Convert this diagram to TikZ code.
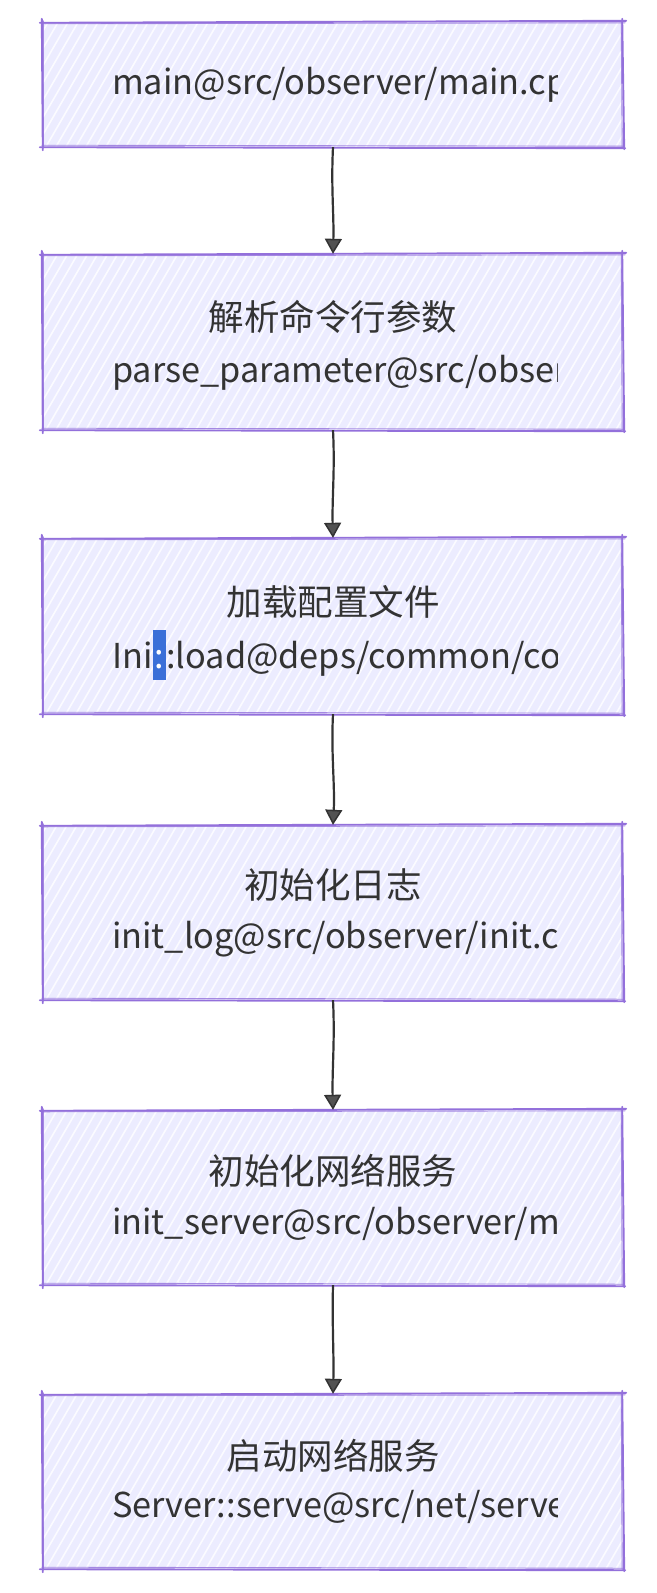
\documentclass[tikz,border=0pt]{standalone}
\usepackage{fontspec}
\setmainfont{Noto Sans CJK SC}
\usetikzlibrary{arrows.meta}
\definecolor{boxfill}{HTML}{ECECFF}
\definecolor{boxline}{HTML}{9370DB}
\definecolor{ink}{HTML}{333333}
\definecolor{selblue}{HTML}{3A6FD8}
\tikzset{
  box/.style={draw=none, inner sep=0pt, minimum width=580pt},
  title/.style={text=ink, font=\fontsize{35.5}{40}\selectfont, inner sep=0pt},
  code/.style={text=ink, font=\fontsize{34.3}{40}\selectfont, inner sep=0pt, anchor=west},
  hatch/.style={white, line width=1.6pt, opacity=0.8},
  border/.style={boxline, line width=1.9pt, line cap=round},
  border2/.style={boxline, line width=0.9pt, line cap=round, opacity=0.8},
  arr/.style={ink, line width=2.2pt, -{Triangle[length=15pt, width=17pt, line width=1.5pt, fill=ink!85]}},
}
\newcommand\sketchbox[1]{%
  \fill[boxfill] (#1.north west) rectangle (#1.south east);
  \begin{scope}
    \clip (#1.north west) rectangle (#1.south east);
    \foreach \k in {0,...,72} \draw[hatch] (#1.south west) ++(\k*10-120,5) -- ++(110,-190);
  \end{scope}
  \draw[border] ([xshift=-3pt,yshift=-1pt]#1.north west) -- ([xshift=3pt,yshift=1pt]#1.north east);
  \draw[border] ([xshift=-1pt,yshift=3pt]#1.north east) -- ([xshift=1pt,yshift=-2pt]#1.south east);
  \draw[border] ([xshift=2pt,yshift=-1pt]#1.south east) -- ([xshift=-3pt,yshift=0pt]#1.south west);
  \draw[border] ([xshift=0pt,yshift=-3pt]#1.south west) -- ([xshift=-1pt,yshift=3pt]#1.north west);
  \draw[border2] ([xshift=-1pt,yshift=-2pt]#1.north west) -- ([xshift=2pt,yshift=-1pt]#1.north east);
  \draw[border2] ([xshift=-2pt,yshift=1pt]#1.north east) -- ([xshift=-1pt,yshift=-1pt]#1.south east);
  \draw[border2] ([xshift=1pt,yshift=1pt]#1.south east) -- ([xshift=-1pt,yshift=2pt]#1.south west);
  \draw[border2] ([xshift=1pt,yshift=-1pt]#1.south west) -- ([xshift=1pt,yshift=1pt]#1.north west);
}
\newcommand\codeline[3]{% name, y, text
  \begin{scope}
    \clip (112,#2-32) rectangle (557,#2+32);
    \node[code] (#1) at (112,#2) {#3};
  \end{scope}
}
\begin{document}
\begin{tikzpicture}[x=1pt,y=-1pt]
\useasboundingbox (0,0) rectangle (656,1593);
\node[box, minimum height=125pt] (b1) at (333,84.5) {};
\node[box, minimum height=176pt] (b2) at (333,342) {};
\node[box, minimum height=176pt] (b3) at (333,626) {};
\node[box, minimum height=175pt] (b4) at (333,912.5) {};
\node[box, minimum height=175pt] (b5) at (333,1197.5) {};
\node[box, minimum height=175pt] (b6) at (333,1481.5) {};
\sketchbox{b1}
\sketchbox{b2}
\sketchbox{b3}
\sketchbox{b4}
\sketchbox{b5}
\sketchbox{b6}

\codeline{c1}{85}{main@src/observer/main.cpp}
\node[title] (t2) at (333,317) {解析命令行参数};
\codeline{c2}{373}{parse\_parameter@src/observer/main.cpp}
\node[title] (t3) at (333,602) {加载配置文件};
\codeline{c3}{655}{Ini{\setlength\fboxsep{0pt}\colorbox{selblue}{\kern2pt\textcolor{white}{\rule[-12pt]{0pt}{50pt}:}\kern2pt}}:load@deps/common/conf/ini.cpp}
\node[title] (t4) at (333,885) {初始化日志};
\codeline{c4}{939}{init\_log@src/observer/init.cpp}
\node[title] (t5) at (333,1171) {初始化网络服务};
\codeline{c5}{1225}{init\_server@src/observer/main.cpp}
\node[title] (t6) at (333,1456) {启动网络服务};
\codeline{c6}{1508}{Server::serve@src/net/server.cpp}

\draw[arr] (b1.south) .. controls +(-2,40) and +(1,-40) .. (b2.north);
\draw[arr] (b2.south) .. controls +(2,40) and +(-1,-40) .. (b3.north);
\draw[arr] (b3.south) .. controls +(-2,40) and +(2,-40) .. (b4.north);
\draw[arr] (b4.south) .. controls +(2,40) and +(-1,-40) .. (b5.north);
\draw[arr] (b5.south) .. controls +(-1,40) and +(1,-40) .. (b6.north);
\end{tikzpicture}
\end{document}
